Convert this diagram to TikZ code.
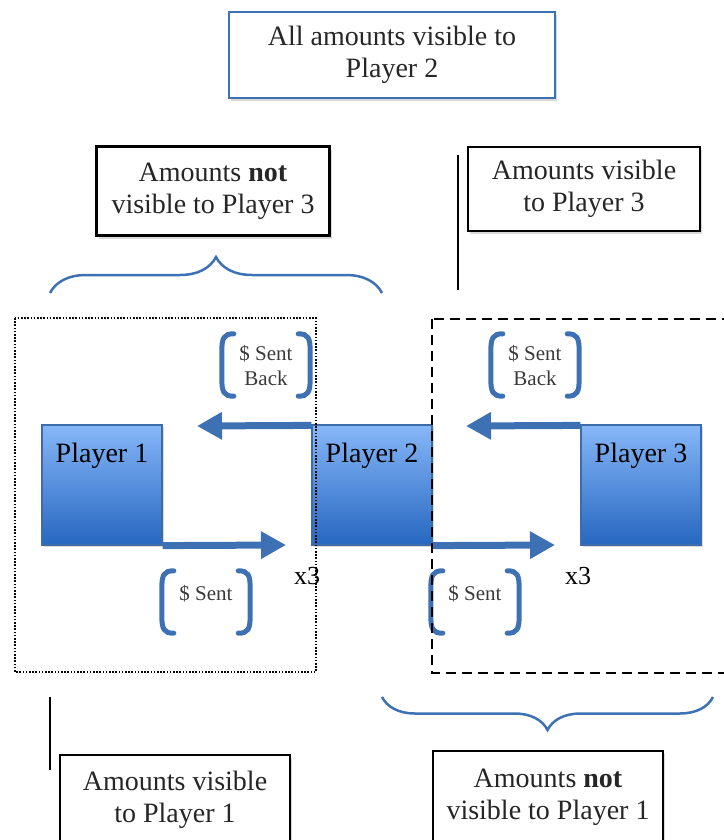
\documentclass[tikz,border=0pt]{standalone}
\usepackage{fontspec}
\setmainfont{Liberation Serif}
\usetikzlibrary{arrows.meta,decorations.pathreplacing,shadows}
\definecolor{lineblue}{HTML}{3D71B3}
\definecolor{lightblue}{HTML}{86B7F8}
\definecolor{darkblue}{HTML}{2767C0}
\definecolor{edgeblue}{HTML}{3C6DAA}
\definecolor{textgray}{HTML}{3A3A3A}
\tikzset{
  player/.style={draw=edgeblue,line width=1.2pt,top color=lightblue,bottom color=darkblue,
    minimum width=120pt,inner sep=0pt,text height=37pt,text depth=83pt,
    font=\fontsize{28}{32}\selectfont,drop shadow={opacity=.3,shadow xshift=2pt,shadow yshift=-2pt}},
  note/.style={draw=black,line width=2.5pt,fill=white,align=center,inner sep=0pt,text=black!85,
    font=\fontsize{28}{32}\selectfont,drop shadow={opacity=.3,shadow xshift=2pt,shadow yshift=-3pt}},
  sent/.style={minimum width=88pt,minimum height=62pt,inner sep=0pt,align=center,
    text=textgray,font=\fontsize{21}{25}\selectfont},
  bracket/.style={draw=lineblue,line width=5pt,line cap=round},
  send/.style={draw=lineblue,line width=7pt,-{Triangle[length=25pt,width=26pt]}},
  curly/.style={draw=lineblue,line width=2.5pt,decorate},
  times/.style={inner sep=0pt,font=\fontsize{26}{30}\selectfont}
}
\newcommand\sentbrackets[1]{%
  \draw[bracket] ([xshift=12pt]#1.north west) .. controls ([xshift=2pt]#1.north west) and ([yshift=-4pt]#1.north west) .. ([yshift=-18pt]#1.north west)
    -- ([yshift=18pt]#1.south west) .. controls ([yshift=4pt]#1.south west) and ([xshift=2pt]#1.south west) .. ([xshift=12pt]#1.south west);
  \draw[bracket] ([xshift=-12pt]#1.north east) .. controls ([xshift=-2pt]#1.north east) and ([yshift=-4pt]#1.north east) .. ([yshift=-18pt]#1.north east)
    -- ([yshift=18pt]#1.south east) .. controls ([yshift=4pt]#1.south east) and ([xshift=-2pt]#1.south east) .. ([xshift=-12pt]#1.south east);}
\begin{document}
\begin{tikzpicture}[x=1pt,y=-1pt]
 \useasboundingbox (0,0) rectangle (723,840);

 \node[note,draw=lineblue,line width=2.5pt,minimum width=326pt,minimum height=86pt] (all) at (392,55) {All amounts visible to\\Player 2};
 \node[note,minimum width=233pt,minimum height=89pt] (notthree) at (213,191) {Amounts \textbf{not}\\visible to Player 3};
 \node[note,minimum width=232pt,minimum height=84pt] (visthree) at (584,189) {Amounts visible\\to Player 3};
 \node[note,minimum width=230pt,minimum height=90pt] (visone) at (175,800) {Amounts visible\\to Player 1};
 \node[note,minimum width=230pt,minimum height=92pt] (notone) at (548,797) {Amounts \textbf{not}\\visible to Player 1};

 \draw[line width=2pt] (458,155) -- (458,290);
 \draw[line width=2pt] (50,697) -- (50,770);

 \coordinate (bl) at (50,293);
 \coordinate (br) at (382,293);
 \coordinate (cl) at (382,697);
 \coordinate (cr) at (713,697);
 \draw[curly,decoration={brace,amplitude=36pt}] (bl) -- (br);
 \draw[curly,decoration={brace,amplitude=33pt}] (cr) -- (cl);

 \node[player] (p1) at (102,485) {Player 1};
 \node[player] (p2) at (372,485) {Player 2};
 \node[player] (p3) at (641,485) {Player 3};

 \coordinate (s1) at (286,545);
 \coordinate (s2) at (555,545);
 \coordinate (b1) at (197,426);
 \coordinate (b2) at (466,426);
 \draw[send] (p1.south east) -- (s1);
 \draw[send] (p2.south east) -- (s2);
 \draw[send] ([yshift=-1pt]p2.north west) -- (b1);
 \draw[send] ([yshift=-1pt]p3.north west) -- (b2);

 \node[times] (x3a) at (307,576) {x3};
 \node[times] (x3b) at (578,576) {x3};

 \node[sent,text height=29pt,text depth=33pt] (sent1) at (206,602) {\$ Sent};
 \node[sent,text height=29pt,text depth=33pt] (sent2) at (475,602) {\$ Sent};
 \node[sent] (back1) at (266,365) {\$ Sent\\Back};
 \node[sent] (back2) at (535,365) {\$ Sent\\Back};
 \sentbrackets{sent1}
 \sentbrackets{sent2}
 \sentbrackets{back1}
 \sentbrackets{back2}

 \draw[line width=1.6pt,dash pattern=on 1.6pt off 1.6pt] (15,318) rectangle (316,672);
 \draw[line width=2.5pt,dash pattern=on 10pt off 6pt] (432,319) rectangle (732,673);
\end{tikzpicture}
\end{document}
